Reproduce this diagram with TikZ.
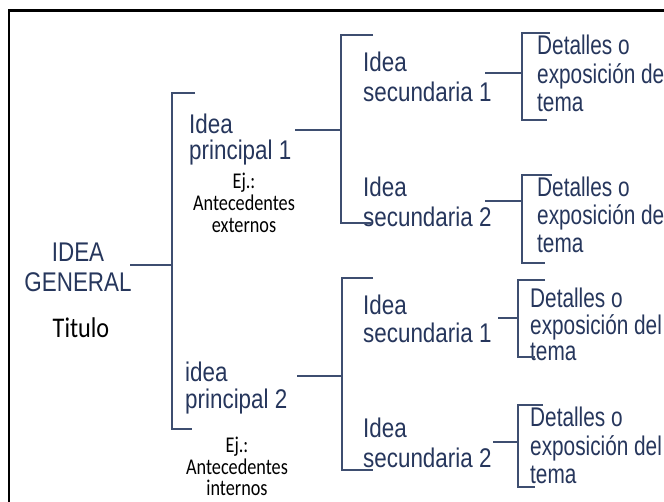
\documentclass[tikz,border=0pt]{standalone}
\usepackage{fontspec}
\newfontfamily\arialc[FakeStretch=0.83]{Liberation Sans}
\newfontfamily\arialn[FakeStretch=0.77]{Liberation Sans}
\newfontfamily\ejfont[FakeStretch=0.81]{Carlito}
\newfontfamily\titfont[FakeStretch=0.85]{Carlito}
\definecolor{navy}{RGB}{38,54,92}
\definecolor{linecol}{RGB}{62,78,112}
\tikzset{
  lin/.style={draw=linecol, line width=1.7pt},
  frame/.style={draw=black, line width=2.2pt},
  big/.style={inner sep=0pt, text=navy, align=left, anchor=north west,
    font=\arialc\fontsize{27}{#1}\selectfont},
  big/.default=30,
  det/.style={inner sep=0pt, text=navy, align=left, anchor=north west,
    font=\arialn\fontsize{27}{#1}\selectfont},
  det/.default=28,
  ejtxt/.style={inner sep=0pt, text=black, align=center, anchor=north,
    font=\ejfont\fontsize{22.5}{#1}\selectfont},
  ejtxt/.default=22,
}
\begin{document}
\begin{tikzpicture}[x=1pt,y=-1pt]
\useasboundingbox (0,0) rectangle (664,501);
\clip (0,0) rectangle (664,501);
\fill[white] (0,0) rectangle (664,501);
% frame (only top and left visible)
\coordinate (fTL) at (9,10.5);
\coordinate (fTR) at (670,10.5);
\coordinate (fBL) at (9,510);
\draw[frame] (fTR) -- (fTL) -- (fBL);

% texts
\node[inner sep=0pt, text=navy, align=center, anchor=north,
  font=\arialc\fontsize{27}{30}\selectfont] (ig) at (78,243) {IDEA\\GENERAL};
\node[inner sep=0pt, text=black, anchor=north,
  font=\titfont\fontsize{28.5}{30}\selectfont] (tit) at (81,318) {Titulo};

\node[big=26] (p1) at (189,114) {Idea\\principal 1};
\node[ejtxt=22] (ej1) at (244,173) {Ej.:\\Antecedentes\\externos};
\node[big=27] (p2) at (185,362) {idea\\principal 2};
\node[ejtxt=21.5] (ej2) at (237,437) {Ej.:\\Antecedentes\\internos};

\node[big=30] (s11) at (363,52) {Idea\\secundaria 1};
\node[big=30] (s12) at (363,177) {Idea\\secundaria 2};
\node[big=28] (s21) at (363,295) {Idea\\secundaria 1};
\node[big=30] (s22) at (363,418) {Idea\\secundaria 2};

\node[det=28.5] (d11) at (537,35) {Detalles o\\exposición de\\tema};
\node[det=28] (d12) at (537,177) {Detalles o\\exposición de\\tema};
\node[det=26.5] (d21) at (530,288) {Detalles o\\exposición del\\tema};
\node[det=28.5] (d22) at (530,407) {Detalles o\\exposición del\\tema};

% bracket A (main)
\coordinate (a0) at (130,265);
\coordinate (aJ) at (172,265);
\coordinate (aT) at (172,93);
\coordinate (aB) at (172,429);
\draw[lin] (a0) -- (aJ);
\draw[lin] ([xshift=23pt]aT) -- (aT) -- (aB) -- ([xshift=20pt]aB);

% bracket B (principal 1)
\coordinate (b0) at (295,130);
\coordinate (bJ) at (341,130);
\coordinate (bT) at (341,35);
\coordinate (bB) at (341,223);
\draw[lin] (b0) -- (bJ);
\draw[lin] ([xshift=32pt]bT) -- (bT) -- (bB) -- ([xshift=31pt]bB);

% bracket E (principal 2)
\coordinate (e0) at (297,376);
\coordinate (eJ) at (342,376);
\coordinate (eT) at (342,278);
\coordinate (eB) at (342,470);
\draw[lin] (e0) -- (eJ);
\draw[lin] ([xshift=31pt]eT) -- (eT) -- (eB) -- ([xshift=31pt]eB);

% bracket C
\coordinate (c0) at (485,73);
\coordinate (cJ) at (522,73);
\coordinate (cT) at (522,33);
\coordinate (cB) at (522,120);
\draw[lin] (c0) -- (cJ);
\draw[lin] ([xshift=28pt]cT) -- (cT) -- (cB) -- ([xshift=25pt]cB);

% bracket D
\coordinate (g0) at (485,201);
\coordinate (gJ) at (522,201);
\coordinate (gT) at (522,175);
\coordinate (gB) at (522,263);
\draw[lin] (g0) -- (gJ);
\draw[lin] ([xshift=30pt]gT) -- (gT) -- (gB) -- ([xshift=23pt]gB);

% bracket F
\coordinate (f0) at (498,318);
\coordinate (fJ) at (518,318);
\coordinate (fT) at (518,280);
\coordinate (fB) at (518,357);
\draw[lin] (f0) -- (fJ);
\draw[lin] ([xshift=27pt]fT) -- (fT) -- (fB) -- ([xshift=17pt]fB);

% bracket G
\coordinate (h0) at (493,442);
\coordinate (hJ) at (518,442);
\coordinate (hT) at (518,405);
\coordinate (hB) at (518,487);
\draw[lin] (h0) -- (hJ);
\draw[lin] ([xshift=25pt]hT) -- (hT) -- (hB) -- ([xshift=17pt]hB);
\end{tikzpicture}
\end{document}
